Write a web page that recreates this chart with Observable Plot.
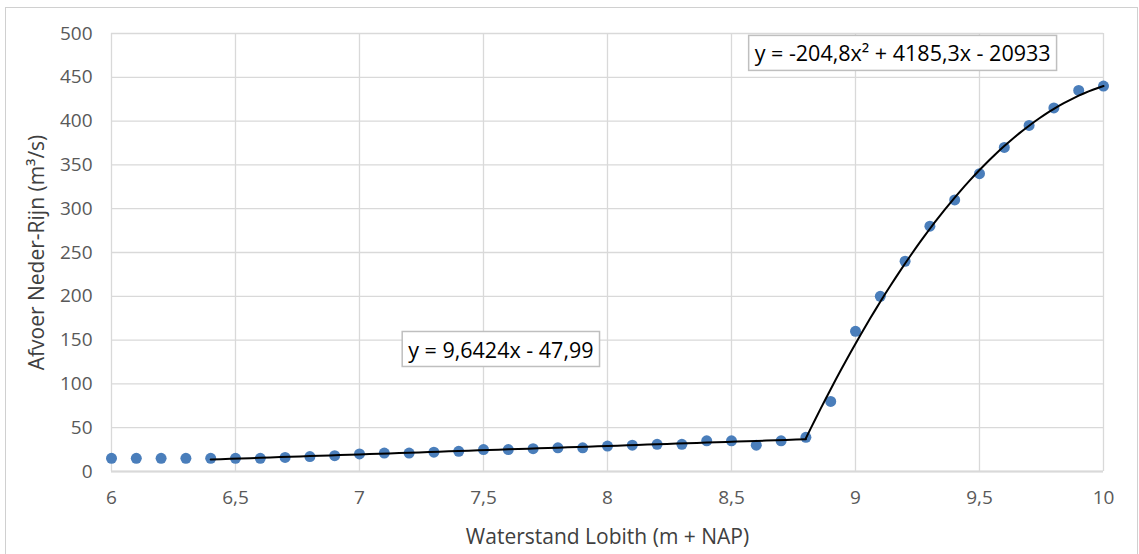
<!DOCTYPE html>
<html>
<head>
<meta charset="utf-8">
<script src="https://cdn.jsdelivr.net/npm/d3@7"></script>
<script src="https://cdn.jsdelivr.net/npm/@observablehq/plot@0.6"></script>
<style>
  html, body { margin: 0; padding: 0; background: #fff; overflow: hidden; }
  #wrap { position: relative; width: 1139px; height: 554px; overflow: hidden; }
  #frame { position: absolute; left: 5px; top: 7px; width: 1133px; height: 560px;
           border: 1.5px solid #d0d0d0; box-sizing: border-box; pointer-events: none; }
  svg text { font-family: "Open Sans", sans-serif; }
</style>
</head>
<body>
<div id="wrap"><div id="frame"></div></div>
<script>
// Water level at Lobith (m + NAP)
const waterstand = [6.0, 6.1, 6.2, 6.3, 6.4, 6.5, 6.6, 6.7, 6.8, 6.9, 7.0, 7.1, 7.2, 7.3, 7.4, 7.5,
  7.6, 7.7, 7.8, 7.9, 8.0, 8.1, 8.2, 8.3, 8.4, 8.5, 8.6, 8.7, 8.8, 8.9, 9.0, 9.1, 9.2, 9.3, 9.4,
  9.5, 9.6, 9.7, 9.8, 9.9, 10.0];
// Discharge Neder-Rijn (m³/s)
const afvoer = [15, 15, 15, 15, 15, 15, 15, 16, 17, 18, 20, 21, 21, 22, 23, 25,
  25, 26, 27, 27, 29, 30, 31, 31, 35, 35, 30, 35, 39, 80, 160, 200, 240, 280, 310,
  340, 370, 395, 415, 435, 440];

// Trendline coefficients (highest power first) and the range each applies to
const linCoef = [9.6424, -47.99];
const linRange = [6.4, 8.8];
const quadCoef = [-204.8, 4185.3, -20933];
const quadRange = [8.8, 10.0];

// Equation label positions (data coordinates)
const labelX = [7.57, 9.19];
const labelY = [138, 476];

const xTicks = [6, 6.5, 7, 7.5, 8, 8.5, 9, 9.5, 10];
const yTicks = [0, 50, 100, 150, 200, 250, 300, 350, 400, 450, 500];

const comma = v => String(v).replace(".", ",");
const poly = (c, x) => c.reduce((acc, k) => acc * x + k, 0);
const sample = (c, [a, b]) => d3.range(0, 61).map(i => {
  const x = a + (b - a) * i / 60;
  return {x, y: poly(c, x)};
});

const points = waterstand.map((x, i) => ({x, y: afvoer[i]}));
const linLine = sample(linCoef, linRange);
const quadLine = sample(quadCoef, quadRange);

const labels = [
  {x: labelX[0], y: labelY[0], text: `y = ${comma(linCoef[0])}x - ${comma(-linCoef[1])}`},
  {x: labelX[1], y: labelY[1], text: `y = ${comma(quadCoef[0])}x² + ${comma(quadCoef[1])}x - ${comma(-quadCoef[2])}`}
];

const grid = "#d9d9d9";
const ink = "#595959";

const chart = Plot.plot({
  width: 1139,
  height: 554,
  marginLeft: 111,
  marginRight: 36,
  marginTop: 33,
  marginBottom: 83,
  style: {background: "transparent", fontSize: "19px", fontFamily: "Open Sans, sans-serif"},
  x: {domain: [6, 10], ticks: xTicks, tickFormat: comma},
  y: {domain: [0, 500], ticks: yTicks},
  marks: [
    Plot.gridX(xTicks, {stroke: grid, strokeOpacity: 1, strokeWidth: 1.3}),
    Plot.gridY(yTicks, {stroke: grid, strokeOpacity: 1, strokeWidth: 1.3}),
    Plot.ruleY([0], {stroke: grid, strokeWidth: 2}),
    Plot.axisX(xTicks, {tickSize: 0, tickPadding: 19, tickFormat: comma, fill: ink, fontSize: 19,
      label: "Waterstand Lobith (m + NAP)", labelAnchor: "center", labelOffset: 72, labelArrow: "none"}),
    Plot.axisY(yTicks, {tickSize: 0, tickPadding: 19, fill: ink, fontSize: 19,
      label: "Afvoer Neder-Rijn (m³/s)", labelAnchor: "center", labelOffset: 82, labelArrow: "none"}),
    Plot.dot(points, {x: "x", y: "y", r: 5.5, fill: "#4a7ebb", stroke: "none"}),
    Plot.line(linLine, {x: "x", y: "y", stroke: "#000", strokeWidth: 2}),
    Plot.line(quadLine, {x: "x", y: "y", stroke: "#000", strokeWidth: 2}),
    Plot.text(labels, {x: "x", y: "y", text: "text", fill: "#000", fontSize: 21.5, className: "eqlabel"})
  ]
});

document.getElementById("wrap").prepend(chart);

// Axis titles in darker ink
chart.querySelectorAll("[aria-label='x-axis label'] text, [aria-label='y-axis label'] text")
  .forEach(t => { t.setAttribute("fill", "#404040"); t.style.fontSize = "21px"; });

// White boxes with a grey outline behind the trendline equations
chart.querySelectorAll(".eqlabel text").forEach(t => {
  const b = t.getBBox();
  const r = document.createElementNS("http://www.w3.org/2000/svg", "rect");
  const padX = 6, padY = 4;
  r.setAttribute("x", b.x - padX);
  r.setAttribute("y", b.y - padY + 1);
  r.setAttribute("width", b.width + 2 * padX);
  r.setAttribute("height", b.height + 2 * padY - 2);
  r.setAttribute("fill", "#fff");
  r.setAttribute("stroke", "#bfbfbf");
  r.setAttribute("stroke-width", 1.5);
  const tf = t.getAttribute("transform");
  if (tf) r.setAttribute("transform", tf);
  t.parentNode.insertBefore(r, t);
});
</script>
</body>
</html>
